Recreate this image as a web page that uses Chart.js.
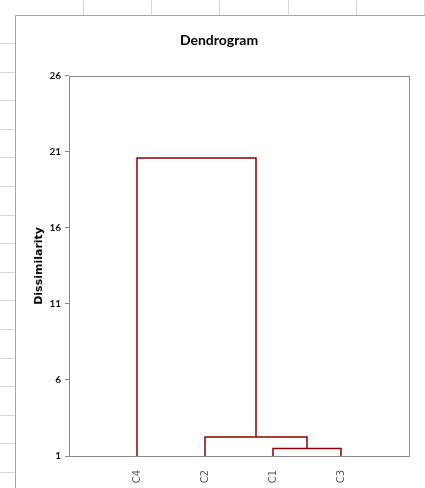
<!DOCTYPE html>
<html>
<head>
<meta charset="utf-8">
<script src="https://cdn.jsdelivr.net/npm/chart.js@4"></script>
<style>
  html, body { margin: 0; padding: 0; background: #ffffff; }
  #wrap { width: 425px; height: 488px; position: relative; }
</style>
</head>
<body>
<div id="wrap"><canvas id="dendroChart"></canvas></div>
<script>
// leaves in display order (positions 1..4 on the x axis)
const leaves = ['C4', 'C2', 'C1', 'C3'];
// merges: clusters 0-3 are the leaves, each merge makes a new cluster 4, 5, 6
const mergeA = [2, 1, 0];
const mergeB = [3, 4, 5];
const mergeHeight = [1.49, 2.25, 20.6];
// y axis tick labels
const yTicks = [1, 6, 11, 16, 21, 26];

const baseLevel = yTicks[0];
const darkRed = '#8b0000';

// node x position and height, leaves first then merged clusters
const nodeX = leaves.map((_, i) => i + 1);
const nodeH = leaves.map(() => baseLevel);
const linkSets = [];
mergeA.forEach((a, i) => {
    const b = mergeB[i];
    const h = mergeHeight[i];
    linkSets.push({
        data: [
            { x: nodeX[a], y: nodeH[a] },
            { x: nodeX[a], y: h },
            { x: nodeX[b], y: h },
            { x: nodeX[b], y: nodeH[b] }
        ],
        borderColor: darkRed,
        borderWidth: 1.5,
        pointRadius: 0,
        fill: false,
        tension: 0
    });
    nodeX.push((nodeX[a] + nodeX[b]) / 2);
    nodeH.push(h);
});

// spreadsheet grid behind the chart + frame round the plot area
const sheetAndFrame = {
    id: 'sheetAndFrame',
    beforeDraw(chart) {
        const c = chart.ctx;
        c.save();
        c.fillStyle = '#ffffff';
        c.fillRect(0, 0, chart.width, chart.height);
        c.strokeStyle = '#d9d9d9';
        c.lineWidth = 1;
        for (let x = 83; x < 430; x += 68.2) {
            c.beginPath(); c.moveTo(Math.round(x) + 0.5, 0); c.lineTo(Math.round(x) + 0.5, 15); c.stroke();
        }
        for (let y = 43; y < 490; y += 28.6) {
            c.beginPath(); c.moveTo(0, Math.round(y) + 0.5); c.lineTo(15, Math.round(y) + 0.5); c.stroke();
        }
        c.strokeStyle = '#a6a6a6';
        c.beginPath();
        c.moveTo(15.5, 488); c.lineTo(15.5, 15.5); c.lineTo(425, 15.5);
        c.stroke();
        c.restore();
    },
    afterDatasetsDraw(chart) {
        const a = chart.chartArea;
        const c = chart.ctx;
        c.save();
        c.strokeStyle = '#8c8c8c';
        c.lineWidth = 1;
        c.strokeRect(Math.round(a.left) + 0.5, Math.round(a.top) + 0.5, Math.round(a.right - a.left), Math.round(a.bottom - a.top));
        c.restore();
    }
};

const ctxDendro = document.getElementById('dendroChart').getContext('2d');
const dendroChart = new Chart(ctxDendro, {
    type: 'line',
    data: { datasets: linkSets },
    plugins: [sheetAndFrame],
    options: {
        responsive: true,
        maintainAspectRatio: false,
        animation: false,
        layout: { padding: { left: 15, top: 15, right: 2, bottom: 0 } },
        scales: {
            x: {
                type: 'linear',
                min: 0,
                max: leaves.length + 1,
                afterBuildTicks: (s) => { s.ticks = leaves.map((_, i) => ({ value: i + 1 })); },
                afterFit: (s) => { s.height = 32; },
                grid: { display: false, drawTicks: false },
                border: { display: false },
                ticks: {
                    autoSkip: false,
                    minRotation: 90,
                    maxRotation: 90,
                    padding: 14,
                    color: '#595959',
                    font: { family: 'DejaVu Sans', size: 10 },
                    callback: (v) => leaves[v - 1]
                }
            },
            y: {
                type: 'linear',
                min: yTicks[0],
                max: yTicks[yTicks.length - 1],
                afterBuildTicks: (s) => { s.ticks = yTicks.map(v => ({ value: v })); },
                afterFit: (s) => { s.width = 54; },
                grid: { display: true, drawOnChartArea: false, tickLength: 4, color: '#8c8c8c' },
                border: { display: false },
                ticks: {
                    padding: 4,
                    color: '#1a1a1a',
                    font: { family: 'Lato', size: 10, weight: 'bold' }
                },
                title: {
                    display: true,
                    text: 'Dissimilarity',
                    color: '#000000',
                    padding: { top: 18, bottom: 0 },
                    font: { family: 'DejaVu Sans', size: 11, weight: 'bold' }
                }
            },
            y2: {
                position: 'right',
                afterFit: (s) => { s.width = 14; },
                grid: { display: false },
                border: { display: false },
                ticks: { display: false }
            }
        },
        plugins: {
            legend: { display: false },
            tooltip: { enabled: false },
            title: {
                display: true,
                text: 'Dendrogram',
                color: '#000000',
                padding: { top: 17, bottom: 27 },
                font: { family: 'Lato', size: 14, weight: 'bold' }
            }
        }
    }
});
</script>
</body>
</html>
